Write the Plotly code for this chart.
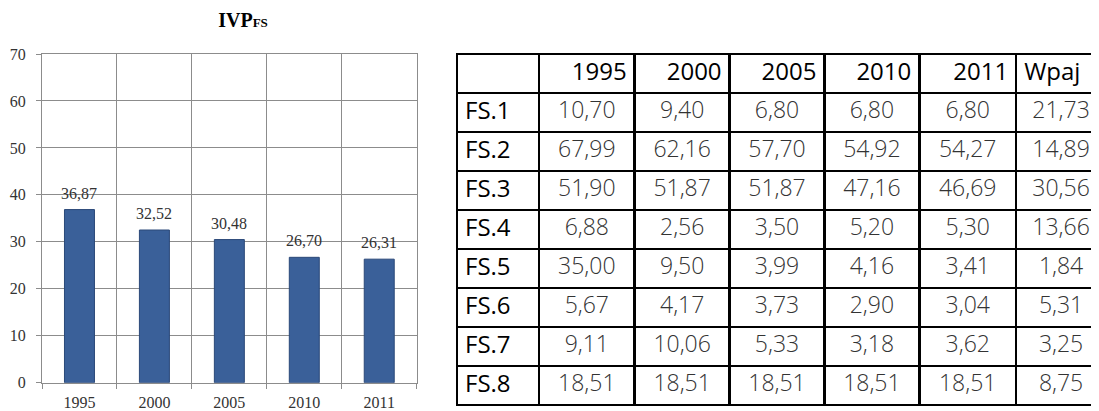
import plotly.graph_objects as go

# ---- data ----
years = ["1995", "2000", "2005", "2010", "2011"]
ivp_fs = [36.87, 32.52, 30.48, 26.70, 26.31]

row_labels = ["FS.1", "FS.2", "FS.3", "FS.4", "FS.5", "FS.6", "FS.7", "FS.8"]
fs_1995 = [10.70, 67.99, 51.90, 6.88, 35.00, 5.67, 9.11, 18.51]
fs_2000 = [9.40, 62.16, 51.87, 2.56, 9.50, 4.17, 10.06, 18.51]
fs_2005 = [6.80, 57.70, 51.87, 3.50, 3.99, 3.73, 5.33, 18.51]
fs_2010 = [6.80, 54.92, 47.16, 5.20, 4.16, 2.90, 3.18, 18.51]
fs_2011 = [6.80, 54.27, 46.69, 5.30, 3.41, 3.04, 3.62, 18.51]
wpaj = [21.73, 14.89, 30.56, 13.66, 1.84, 5.31, 3.25, 8.75]
table_headers = ["", "1995", "2000", "2005", "2010", "2011", "Wpaj"]


def fmt(v):
    return f"{v:.2f}".replace(".", ",")


W, H = 1099, 411
OFF = 8  # page body margin: figure pixel = page pixel - OFF


def fx(p):
    return p - OFF


ML, MR, MT, MB = fx(42), 0, fx(48), 0
pw = W - ML - MR
ph = H - MT - MB

axis_top = fx(54)
axis_bottom = fx(382.7)
axis_right = fx(416.7)
table_left = fx(457)
table_top = fx(54)

serif = "Liberation Serif, Times New Roman, serif"
table_font = "Open Sans, sans-serif"

fig = go.Figure()

fig.add_trace(go.Bar(
    x=years, y=ivp_fs, width=0.4,
    marker=dict(color="#3A6099", line=dict(color="#2A4878", width=1)),
    hoverinfo="x+y", showlegend=False,
))

# value labels above bars (category axis -> index positions)
for i, v in enumerate(ivp_fs):
    fig.add_annotation(x=i, y=v, text=fmt(v), showarrow=False,
                       xref="x", yref="y",
                       yanchor="bottom", yshift=6,
                       font=dict(family=serif, size=16, color="#333333"))

# table
cols = [row_labels] + [[fmt(v) for v in c] for c in (fs_1995, fs_2000, fs_2005, fs_2010, fs_2011, wpaj)]
ncol = len(cols)
fig.add_trace(go.Table(
    domain=dict(x=[(table_left - ML) / pw, 1], y=[0, (H - MB - table_top) / ph]),
    columnwidth=[82, 96, 95, 95, 95, 97, 90],
    header=dict(
        values=table_headers,
        align=["left", "right", "right", "right", "right", "right", "left"],
        height=39,
        line=dict(color="black", width=2.5),
        fill=dict(color="white"),
        font=dict(family=table_font, size=24, color="#000000", weight=400),
    ),
    cells=dict(
        values=cols,
        align=["left"] + ["center"] * (ncol - 1),
        height=39,
        line=dict(color="black", width=2.5),
        fill=dict(color="white"),
        font=dict(family=table_font,
                  size=[24] + [23] * (ncol - 1),
                  color=["#000000"] + ["#333333"] * (ncol - 1),
                  weight=[400] + [300] * (ncol - 1)),
    ),
))

fig.update_layout(
    width=W, height=H,
    margin=dict(l=ML, r=MR, t=MT, b=MB, pad=0, autoexpand=False),
    paper_bgcolor="white", plot_bgcolor="white",
    showlegend=False,
    title=dict(
        text="<b>IVP<span style='font-size:13px'>FS</span></b>",
        x=fx(243) / W, xref="container", xanchor="center",
        y=1 - fx(20) / H, yref="container", yanchor="middle",
        font=dict(family=serif, size=20, color="black"),
        automargin=False,
    ),
    xaxis=dict(
        domain=[0, (axis_right - ML) / pw],
        type="category",
        tickson="boundaries",
        automargin=False,
        showgrid=True, gridcolor="#8c8c8c", gridwidth=1,
        showline=True, linecolor="#8c8c8c", linewidth=1, mirror=True,
        ticks="outside", ticklen=5, tickcolor="#8c8c8c",
        tickfont=dict(family=serif, size=16, color="#333333"),
        ticklabelstandoff=5,
        fixedrange=True,
    ),
    yaxis=dict(
        domain=[(H - MB - axis_bottom) / ph, (H - MB - axis_top) / ph],
        range=[0, 70], dtick=10,
        automargin=False,
        showgrid=True, gridcolor="#8c8c8c", gridwidth=1,
        showline=True, linecolor="#8c8c8c", linewidth=1, mirror=True,
        ticks="outside", ticklen=5, tickcolor="#8c8c8c",
        tickfont=dict(family=serif, size=16, color="#333333"),
        ticklabelstandoff=7,
        zeroline=False,
        fixedrange=True,
    ),
)

fig.write_html("out.html")
